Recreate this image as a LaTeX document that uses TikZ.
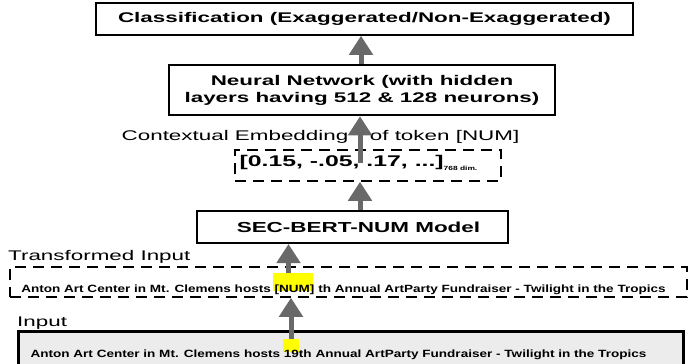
\documentclass[tikz,border=0pt]{standalone}
\usepackage{fontspec}
\setmainfont{Liberation Sans}
\usepackage{graphicx}
\usetikzlibrary{arrows.meta}
\definecolor{arrowgray}{RGB}{105,105,105}
\definecolor{inputgray}{RGB}{236,236,236}
\definecolor{hlyellow}{RGB}{255,255,0}
\newcommand{\wideT}[2][1.6]{\scalebox{#1}[1]{#2}}
\begin{document}
\begin{tikzpicture}[x=1pt,y=-1pt,
  boxbase/.style={draw=black, inner sep=0pt, align=center, font=\fontsize{14}{17}\selectfont\bfseries},
  dashbox/.style={draw=black, line width=1.5pt, dash pattern=on 11pt off 7pt, inner sep=0pt},
  flow/.style={draw=arrowgray, line width=5pt, -{Triangle[length=19pt,width=23pt]}},
  hl/.style={fill=hlyellow, inner sep=0pt},
  lbl/.style={font=\fontsize{14}{17}\selectfont, inner sep=0pt},
  sent/.style={font=\fontsize{10.5}{12}\selectfont\bfseries, inner sep=0pt}
]
\useasboundingbox (0,0) rectangle (688,364);
\fill[white] (0,0) rectangle (688,364);

% boxes
\node[boxbase, line width=1.5pt, minimum width=537pt, minimum height=32pt] (cls) at (364.5,19)
  {\wideT{Classification (Exaggerated/Non-Exaggerated)}};
\node[boxbase, line width=2.5pt, minimum width=386pt, minimum height=50pt] (nn) at (362,90)
  {\wideT{Neural Network (with hidden}\\\wideT{layers having 512 \& 128 neurons)}};
\node[lbl] (ctx) at (320.5,137)
  {\wideT{Contextual Embedding\hspace{13.5pt}of token [NUM]}};
\node[dashbox, minimum width=266pt, minimum height=31pt] (emb) at (368,165.5) {};
\node[inner sep=0pt, font=\fontsize{15.5}{18}\selectfont\bfseries] (embtxt) at (358.5,163)
  {\wideT{[0.15, -.05, .17, ...]}\raisebox{-3.5pt}{\fontsize{6}{7}\selectfont\bfseries\wideT[1.4]{768 dim.}}};
\node[draw=black, line width=2pt, inner sep=0pt, minimum width=311pt, minimum height=32pt] (sec) at (352.5,227) {};
\node[inner sep=0pt, font=\fontsize{14.5}{17}\selectfont\bfseries] (sectxt) at (358.5,227)
  {\wideT[1.55]{SEC-BERT-NUM Model}};

% transformed input
\node[lbl, anchor=west] (tlabel) at (8,257) {\wideT{Transformed Input}};
\node[dashbox, minimum width=677pt, minimum height=30pt] (tbox) at (348.5,282) {};
\node[hl, minimum width=40pt, minimum height=18pt] (hlnum) at (293,282) {};
\node[sent] (ttext) at (343.5,290)
  {\wideT[1.29]{Anton Art Center in Mt. Clemens hosts [NUM] th Annual ArtParty Fundraiser - Twilight in the Tropics}};

% input
\node[lbl, anchor=west] (ilabel) at (17,323) {\wideT{Input}};
\node[draw=black, fill=inputgray, line width=3pt, inner sep=0pt, minimum width=665pt, minimum height=40pt] (ibox) at (350.5,351) {};
\node[hl, minimum width=16pt, minimum height=13pt] (hl19) at (291,345.5) {};
\node[sent] (itext) at (338.5,355)
  {\wideT[1.29]{Anton Art Center in Mt. Clemens hosts 19th Annual ArtParty Fundraiser - Twilight in the Tropics}};

% arrows
\draw[flow] ([xshift=-1pt]nn.north) -- ([xshift=-1pt]nn.north |- cls.south);
\coordinate (e1) at ([xshift=-8pt,yshift=2.5pt]emb.center);
\draw[flow] (e1) -- (e1 |- nn.south);
\draw[flow] ([xshift=7.5pt]sec.north) -- ([xshift=7.5pt]sec.north |- emb.south);
\draw[flow] ([xshift=-4.5pt]hlnum.north) -- ([xshift=-4.5pt]hlnum.north |- sec.south);
\draw[flow] (hl19.north) -- (hl19.north |- tbox.south);
\end{tikzpicture}
\end{document}
